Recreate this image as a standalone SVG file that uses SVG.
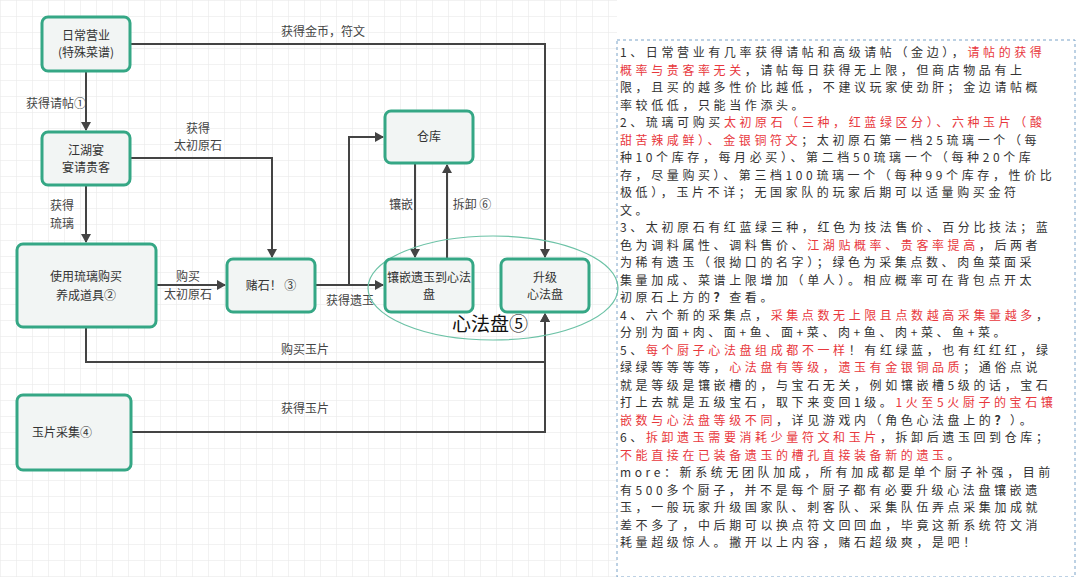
<svg xmlns="http://www.w3.org/2000/svg" width="1080" height="577" viewBox="0 0 1080 577">
<defs>
<pattern id="grid" width="16" height="16" patternUnits="userSpaceOnUse"><path d="M16 0H0V16" fill="none" stroke="#e6e6e6" stroke-width="1"/></pattern>
<marker id="ar" markerWidth="10" markerHeight="10" refX="8" refY="5" orient="auto" markerUnits="userSpaceOnUse"><path d="M0,0 L9,5 L0,10 Z" fill="#444"/></marker>
<style>
.n rect{fill:#f2f5f4;stroke:#35a785;stroke-width:3}
.n text{font-family:"Noto Sans CJK SC","Noto Sans",sans-serif;font-size:12px;fill:#333;text-anchor:middle}
.c path{fill:none;stroke:#444;stroke-width:2;marker-end:url(#ar)}
.l{font-family:"Noto Sans CJK SC","Noto Sans",sans-serif;font-size:12px;fill:#444;text-anchor:middle}
.t{font-family:"Noto Sans CJK SC",sans-serif;font-size:12px;fill:#333;letter-spacing:3.6px}
.r{fill:#e8383d}
</style>
</defs>
<rect width="1080" height="577" fill="#fff"/>
<rect width="617" height="577" fill="url(#grid)"/>
<rect x="617" y="40" width="458" height="537" fill="#fff" stroke="#7aa3c8" stroke-dasharray="3,3"/>
<g class="c">
<path d="M130,44 H545 V257"/>
<path d="M86,71 V130"/>
<path d="M130,158 H272 V257"/>
<path d="M86,185 V242"/>
<path d="M156,285 H225"/>
<path d="M315,285 H383"/>
<path d="M349,285 V137 H383"/>
<path d="M415,163 V257"/>
<path d="M447,259 V165"/>
<path d="M86,327 V362 H545 V314"/>
<path d="M131,432 H545 V314"/>
</g>
<g>
<text class="l" x="323" y="36">获得金币，符文</text>
<text class="l" x="56" y="108">获得请帖①</text>
<text class="l" x="198" y="133">获得</text>
<text class="l" x="198" y="150">太初原石</text>
<text class="l" x="62" y="210">获得</text>
<text class="l" x="62" y="228">琉璃</text>
<text class="l" x="188" y="281">购买</text>
<text class="l" x="188" y="299">太初原石</text>
<text class="l" x="350" y="305">获得遗玉</text>
<text class="l" x="401" y="209">镶嵌</text>
<text class="l" x="472" y="209">拆卸 ⑥</text>
<text class="l" x="305" y="354">购买玉片</text>
<text class="l" x="305" y="413">获得玉片</text>
</g>
<ellipse cx="493" cy="288" rx="125" ry="52" fill="none" stroke="#6cc2a6" stroke-width="1.2"/>
<text x="490" y="331" style="font-family:'Noto Sans CJK SC',sans-serif;font-size:19px;fill:#111;text-anchor:middle">心法盘⑤</text>
<g id="n1" class="n"><rect x="42" y="17" width="88" height="54" rx="6"/><text x="86" y="40">日常营业</text><text x="86" y="57">(特殊菜谱)</text></g>
<g id="n2" class="n"><rect x="42" y="132" width="88" height="53" rx="6"/><text x="86" y="155">江湖宴</text><text x="86" y="172">宴请贵客</text></g>
<g id="n3" class="n"><rect x="17" y="244" width="139" height="83" rx="6"/><text x="86" y="281">使用琉璃购买</text><text x="86" y="300">养成道具②</text></g>
<g id="n4" class="n"><rect x="227" y="259" width="88" height="53" rx="6"/><text x="271" y="290">赌石！ ③</text></g>
<g id="n5" class="n"><rect x="385" y="111" width="88" height="52" rx="6"/><text x="429" y="141">仓库</text></g>
<g id="n6" class="n"><rect x="385" y="259" width="88" height="53" rx="6"/><text x="429" y="282">镶嵌遗玉到心法</text><text x="429" y="299">盘</text></g>
<g id="n7" class="n"><rect x="501" y="259" width="88" height="53" rx="6"/><text x="545" y="282">升级</text><text x="545" y="299">心法盘</text></g>
<g id="n8" class="n"><rect x="17" y="395" width="114" height="75" rx="6"/><text x="62" y="437">玉片采集④</text></g>
<g class="t">
<text x="620" y="57">1、日常营业有几率获得请帖和高级请帖（金边），<tspan class="r">请帖的获得</tspan></text>
<text x="620" y="74.5"><tspan class="r">概率与贵客率无关</tspan>，请帖每日获得无上限，但商店物品有上</text>
<text x="620" y="92">限，且买的越多性价比越低，不建议玩家使劲肝；金边请帖概</text>
<text x="620" y="109.5">率较低低，只能当作添头。</text>
<text x="620" y="127">2、琉璃可购买<tspan class="r">太初原石（三种，红蓝绿区分）、六种玉片（酸</tspan></text>
<text x="620" y="144.5"><tspan class="r">甜苦辣咸鲜）、金银铜符文</tspan>；太初原石第一档25琉璃一个（每</text>
<text x="620" y="162">种10个库存，每月必买）、第二档50琉璃一个（每种20个库</text>
<text x="620" y="179.5">存，尽量购买）、第三档100琉璃一个（每种99个库存，性价比</text>
<text x="620" y="197">极低），玉片不详；无国家队的玩家后期可以适量购买金符</text>
<text x="620" y="214.5">文。</text>
<text x="620" y="232">3、太初原石有红蓝绿三种，红色为技法售价、百分比技法；蓝</text>
<text x="620" y="249.5">色为调料属性、调料售价、<tspan class="r">江湖贴概率、贵客率提高</tspan>，后两者</text>
<text x="620" y="267">为稀有遗玉（很拗口的名字）；绿色为采集点数、肉鱼菜面采</text>
<text x="620" y="284.5">集量加成、菜谱上限增加（单人）。相应概率可在背包点开太</text>
<text x="620" y="302">初原石上方的<tspan font-weight="bold">？</tspan>查看。</text>
<text x="620" y="319.5">4、六个新的采集点，<tspan class="r">采集点数无上限且点数越高采集量越多</tspan>，</text>
<text x="620" y="337">分别为面+肉、面+鱼、面+菜、肉+鱼、肉+菜、鱼+菜。</text>
<text x="620" y="354.5">5、<tspan class="r">每个厨子心法盘组成都不一样</tspan>！有红绿蓝，也有红红红，绿</text>
<text x="620" y="372">绿绿等等等等，<tspan class="r">心法盘有等级，遗玉有金银铜品质</tspan>；通俗点说</text>
<text x="620" y="389.5">就是等级是镶嵌槽的，与宝石无关，例如镶嵌槽5级的话，宝石</text>
<text x="620" y="407">打上去就是五级宝石，取下来变回1级。<tspan class="r">1火至5火厨子的宝石镶</tspan></text>
<text x="620" y="424.5"><tspan class="r">嵌数与心法盘等级不同</tspan>，详见游戏内（角色心法盘上的<tspan font-weight="bold">？</tspan>）。</text>
<text x="620" y="442">6、<tspan class="r">拆卸遗玉需要消耗少量符文和玉片</tspan>，拆卸后遗玉回到仓库；</text>
<text x="620" y="459.5"><tspan class="r">不能直接在已装备遗玉的槽孔直接装备新的遗玉</tspan>。</text>
<text x="620" y="477">more：新系统无团队加成，所有加成都是单个厨子补强，目前</text>
<text x="620" y="494.5">有500多个厨子，并不是每个厨子都有必要升级心法盘镶嵌遗</text>
<text x="620" y="512">玉，一般玩家升级国家队、刺客队、采集队伍弄点采集加成就</text>
<text x="620" y="529.5">差不多了，中后期可以换点符文回回血，毕竟这新系统符文消</text>
<text x="620" y="547">耗量超级惊人。撇开以上内容，赌石超级爽，是吧！</text>
</g>
</svg>
